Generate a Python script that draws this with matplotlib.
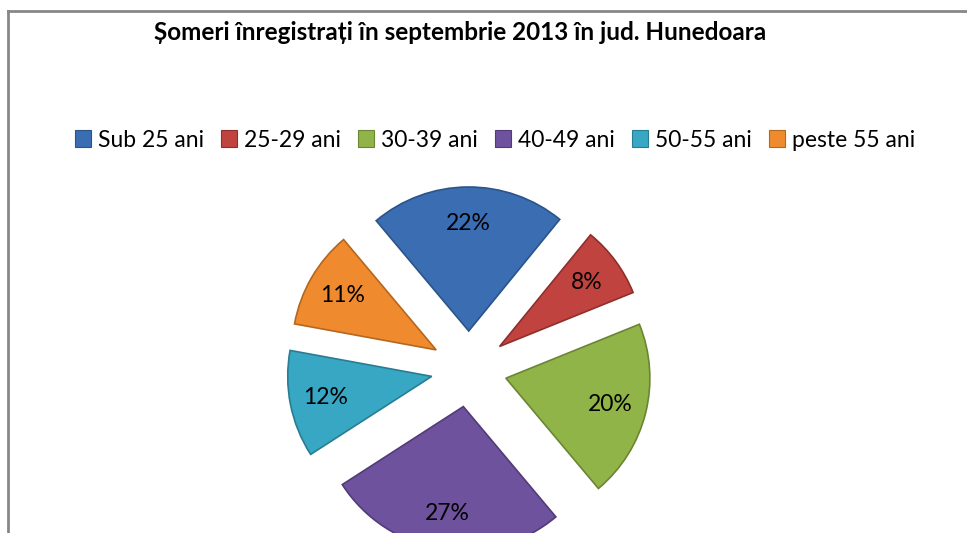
import matplotlib
matplotlib.use("Agg")
import matplotlib.pyplot as plt
from matplotlib.patches import Patch
from matplotlib.lines import Line2D

# chart data
categories = ["Sub 25 ani", "25-29 ani", "30-39 ani", "40-49 ani", "50-55 ani", "peste 55 ani"]
shares = [22, 8, 20, 27, 12, 11]
colors = ["#3a6db2", "#c0433f", "#90b447", "#6f529e", "#37a7c4", "#f08a2f"]
edge_colors = ["#2b5488", "#8e2f2c", "#6a8634", "#513b78", "#287d93", "#b5661f"]
title = "Șomeri înregistrați în septembrie 2013 în jud. Hunedoara"

plt.rcParams['font.family'] = ['Lato', 'DejaVu Sans']

W, H = 967, 533
fig = plt.figure(figsize=(W / 100, H / 100), dpi=100)
ax = fig.add_axes([0, 0, 1, 1])

# explode is in data units (pixels here)
wedges, texts, autotexts = ax.pie(
    shares,
    colors=colors,
    startangle=130,
    counterclock=False,
    explode=[38] * len(shares),
    radius=144,
    center=(469, H - 369),
    autopct='%d%%',
    pctdistance=0.75,
    textprops={'fontsize': 16.5, 'color': 'black'},
    wedgeprops={'linewidth': 1.2},
)
for w, ec in zip(wedges, edge_colors):
    w.set_edgecolor(ec)

ax.set_xlim(0, W)
ax.set_ylim(0, H)
ax.set_aspect('equal')
ax.axis('off')

# chart area border (left and top sides visible)
ax.add_line(Line2D([8, 8], [0, H - 11], color="#878787", linewidth=2, clip_on=False))
ax.add_line(Line2D([8, W], [H - 11, H - 11], color="#878787", linewidth=2, clip_on=False))

fig.text(460 / W, 1 - 33 / H, title, ha='center', va='center',
         fontsize=17.5, fontweight='bold')

handles = [Patch(facecolor=c, edgecolor=e, linewidth=0.8) for c, e in zip(colors, edge_colors)]
fig.legend(handles, categories, loc='center', bbox_to_anchor=(495 / W, 1 - 140 / H),
           ncol=6, frameon=False, fontsize=16.5, handlelength=0.7, handleheight=0.7,
           handletextpad=0.3, columnspacing=0.75)

fig.savefig("out.png", dpi=100)
